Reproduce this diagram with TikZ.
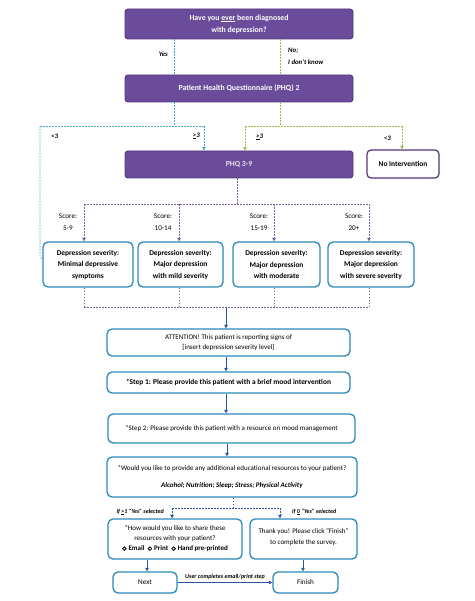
\documentclass[tikz,border=0pt]{standalone}
\usepackage{fontspec}
\setmainfont{Carlito}
\usetikzlibrary{arrows.meta}
\definecolor{pfill}{HTML}{6B4C9A}
\definecolor{pborder}{HTML}{54357F}
\definecolor{tealb}{HTML}{2A8AB8}
\definecolor{cyand}{HTML}{4BACC6}
\definecolor{greend}{HTML}{9BBB59}
\definecolor{purpd}{HTML}{7F5FA8}
\definecolor{bluea}{HTML}{2A55A0}
\tikzset{
  pbox/.style={draw=pborder, fill=pfill, line width=0.9pt, rounded corners=3pt, text=white, font=\fontsize{7.8}{12}\selectfont\bfseries, align=center, inner sep=0pt},
  tbox/.style={draw=tealb, fill=white, line width=1.3pt, rounded corners=5pt, font=\fontsize{7.3}{10.5}\selectfont, align=center, inner sep=0pt},
  sevbox/.style={tbox, minimum height=45pt, font=\fontsize{7.4}{11.5}\selectfont\bfseries},
  lab/.style={font=\fontsize{6.8}{12}\selectfont\bfseries\itshape, inner sep=0pt, align=left},
  slab/.style={font=\fontsize{6}{7}\selectfont\bfseries\itshape, inner sep=0pt},
  scorelab/.style={font=\fontsize{7.2}{12}\selectfont, inner sep=0pt, align=center},
  cyanline/.style={draw=cyand, line width=0.8pt, dash pattern=on 1.6pt off 1.4pt},
  greenline/.style={draw=greend, line width=0.8pt, dash pattern=on 1.6pt off 1.4pt},
  purpline/.style={draw=purpd, line width=0.8pt, dash pattern=on 1.6pt off 1.4pt},
  bluedash/.style={draw=bluea, line width=0.8pt, dash pattern=on 1.6pt off 1.4pt},
  bluesolid/.style={draw=bluea, line width=0.8pt},
  tip/.style={-{Triangle[length=3.5pt,width=3.5pt]}},
}
\newcommand{\radio}{\tikz[baseline=-2.3pt]\draw[line width=0.8pt] (0,0) circle (1.8pt);\hspace{2pt}}
\begin{document}
\begin{tikzpicture}[x=1pt,y=-1pt]
\useasboundingbox (0,0) rectangle (474,601);
% purple boxes
\node[pbox, minimum width=228pt, minimum height=30pt] (top) at (239,24) {Have you \underline{ever} been diagnosed\\with depression?};
\node[pbox, minimum width=228pt, minimum height=27pt] (phq2) at (239,88.5) {Patient Health Questionnaire (PHQ) 2};
\node[pbox, minimum width=228pt, minimum height=27pt, text=violet!15] (phq39) at (239,164.5) {PHQ 3-9};
\node[draw=pborder, fill=white, line width=1.2pt, rounded corners=4pt, minimum width=72pt, minimum height=28pt, inner sep=0pt, font=\fontsize{7.4}{10}\selectfont\bfseries] (noint) at (403,164) {No Intervention};
% severity boxes
\node[sevbox, minimum width=90pt] (sev1) at (88,264.5) {Depression severity:\\Minimal depressive\\symptoms};
\node[sevbox, minimum width=85pt] (sev2) at (180.5,264.5) {Depression severity:\\Major depression\\with mild severity};
\node[sevbox, minimum width=87pt] (sev3) at (276.5,264.5) {Depression severity:\\Major depression\\with moderate};
\node[sevbox, minimum width=86pt] (sev4) at (371,264.5) {Depression severity:\\Major depression\\with severe severity};
% lower boxes
\node[tbox, minimum width=243pt, minimum height=27pt, font=\fontsize{7}{10}\selectfont] (att) at (228.5,342.5) {ATTENTION! This patient is reporting signs of\\{[}insert depression severity level{]}};
\node[tbox, minimum width=243pt, minimum height=21pt, font=\fontsize{7.4}{10}\selectfont\bfseries] (s1) at (228.5,382.5) {*Step 1: Please provide this patient with a brief mood intervention};
\node[tbox, minimum width=247pt, minimum height=29pt, font=\fontsize{7}{10}\selectfont] (s2) at (231.5,428.5) {*Step 2: Please provide this patient with a resource on mood management};
\node[tbox, minimum width=250pt, minimum height=40pt, font=\fontsize{7}{17.5}\selectfont] (res) at (232,477) {*Would you like to provide any additional educational resources to your patient?\\\textbf{\textit{Alcohol; Nutrition; Sleep; Stress; Physical Activity}}};
\node[tbox, minimum width=134pt, minimum height=40pt, font=\fontsize{7}{10}\selectfont] (share) at (175,539) {*How would you like to share these\\resources with your patient?\\\textbf{\radio Email \ \radio Print \ \radio Hand pre-printed}};
\node[tbox, minimum width=107pt, minimum height=40pt, font=\fontsize{7}{10.5}\selectfont] (thank) at (303.5,539) {Thank you! Please click ``Finish''\\to complete the survey.\\[-5pt]\mbox{}};
\node[tbox, minimum width=64pt, minimum height=21pt, font=\fontsize{7.2}{10}\selectfont] (next) at (145,582.5) {Next};
\node[tbox, minimum width=65pt, minimum height=21pt, font=\fontsize{7.2}{10}\selectfont] (fin) at (305.5,582.5) {Finish};
% coordinates
\coordinate (cy) at (174,126);
\coordinate (cyL) at (40,126);
\coordinate (cyR) at (204,126);
\coordinate (cyE) at (40,257);
\coordinate (gr) at (280,126);
\coordinate (grL) at (245,126);
\coordinate (grR) at (402,126);
\coordinate (pu) at (237,204);
\coordinate (d1) at (84,204);
\coordinate (d2) at (179,204);
\coordinate (d3) at (274,204);
\coordinate (d4) at (369,204);
\coordinate (pb) at (226,307);
\coordinate (b1) at (84,307);
\coordinate (b4) at (369,307);
\coordinate (ax) at (226,0);
\coordinate (rb) at (233,508);
\coordinate (rbL) at (172,508);
\coordinate (rbR) at (280,508);
% cyan connectors
\draw[cyanline] (top.south -| cy) -- (phq2.north -| cy);
\draw[cyanline] (phq2.south -| cy) -- (cy);
\draw[cyanline] (cyL) -- (cyR);
\draw[cyanline] (cyL) -- (cyE) -- (sev1.west |- 259,259);
\draw[cyanline, tip] (cyR) -- (phq39.north -| cyR);
% green connectors
\draw[greenline] (top.south -| gr) -- (phq2.north -| gr);
\draw[greenline] (phq2.south -| gr) -- (gr);
\draw[greenline] (grL) -- (grR);
\draw[greenline, tip] (grL) -- (phq39.north -| grL);
\draw[greenline, tip] (grR) -- (noint.north -| grR);
% labels top
\node[lab, anchor=east] at (168,54) {Yes};
\node[lab, anchor=west] at (288,56) {No;\\I don't know};
\node[lab, anchor=west] at (51,136) {<3};
\node[lab, anchor=east] at (200,136) {\underline{>}3};
\node[lab, anchor=west] at (256,137) {\underline{>}3};
\node[lab, anchor=east] at (391,138) {<3};
% purple connectors
\draw[purpline] (phq39.south -| pu) -- (pu);
\draw[purpline] (d1) -- (d4);
\foreach \i in {1,2,3,4} {
  \draw[purpline, tip] (d\i) -- (sev\i.north -| d\i);
  \draw[purpline] (sev\i.south -| d\i) -- (d\i |- pb);
}
\draw[purpline] (b1) -- (b4);
% score labels
\node[scorelab] at (68,222) {Score:\\5-9};
\node[scorelab] at (163,222) {Score:\\10-14};
\node[scorelab] at (259,222) {Score:\\15-19};
\node[scorelab] at (354,222) {Score:\\20+};
% blue chain
\draw[bluesolid, tip] (pb) -- (att.north -| pb);
\draw[bluesolid, tip] (att.south -| ax) -- (s1.north -| ax);
\draw[bluesolid, tip] (s1.south -| ax) -- (s2.north -| ax);
\draw[bluesolid, tip] (s2.south -| 227,0) -- (res.north -| 227,0);
\draw[bluedash] (res.south -| rb) -- (rb);
\draw[bluedash] (rbL) -- (rbR);
\draw[bluedash, tip] (rbL) -- (share.north -| rbL);
\draw[bluedash, tip] (rbR) -- (thank.north -| rbR);
\node[slab, anchor=east] at (164,512) {if \underline{>}1 ``Yes'' selected};
\node[slab, anchor=west] at (292,512) {if \underline{0} ``Yes'' selected};
\draw[bluesolid, tip] (share.south -| 147,0) -- (next.north -| 147,0);
\draw[bluesolid, tip] (thank.south -| 303,0) -- (fin.north -| 303,0);
\draw[bluesolid, tip] (next.east) -- (fin.west) node[slab, midway, above=2.5pt] {User completes email/print step};
\end{tikzpicture}
\end{document}
